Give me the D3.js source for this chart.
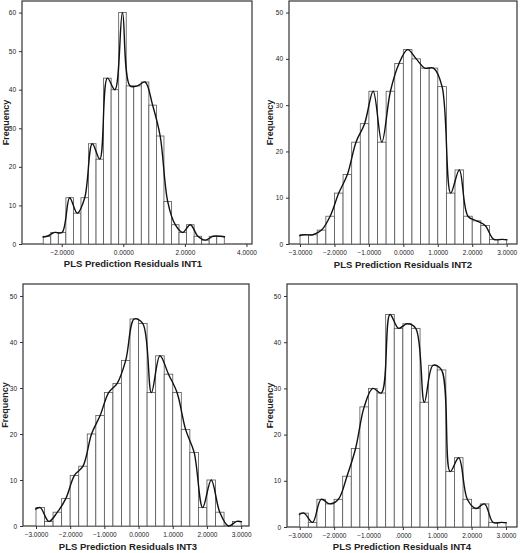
<!DOCTYPE html>
<html><head><meta charset="utf-8">
<script src="https://cdn.jsdelivr.net/npm/d3@7"></script>
<style>body{margin:0;background:#fff}svg{display:block}</style>
</head><body>
<svg id="c" width="520" height="553"></svg>
<script>
// bin counts, width 0.25
var int1Start = -2.6, int1Width = 0.245
var int1 = [2,3,3,12,8,12,26,22,43,40,60,41,41,42,36,28,11,5,3,5,2,1,2,2]
var int2 = [2,2,3,6,11,15,22,26,33,22,33,39,42,40,38,38,34,11,16,6,5,4,1,1]
var int3 = [4,1,3,6,11,13,20,24,29,31,36,45,44,29,37,33,29,21,16,4,10,3,0,1]
var int4 = [3,1,6,5,6,11,17,26,30,29,46,43,44,43,27,35,34,12,15,6,4,5,1,1]
var ticks1 = [-2, 0, 2, 4]
var ticks234 = [-3, -2, -1, 0, 1, 2, 3]

var panels = [
  {name: 'INT1', counts: int1, start: int1Start, w: int1Width, box: [22, 1, 252, 244], xd: [-3.29, 4.18], yMax: 63, yt: d3.range(0, 61, 10), xt: ticks1, lab: [5, 133, 264]},
  {name: 'INT2', counts: int2, start: -3, w: 0.25, box: [289, 1, 517, 244], xd: [-3.32, 3.3], yMax: 52.5, yt: d3.range(0, 51, 10), xt: ticks234, lab: [269, 403, 265]},
  {name: 'INT3', counts: int3, start: -3, w: 0.25, box: [23, 284, 249, 526], xd: [-3.38, 3.23], yMax: 52.6, yt: d3.range(0, 51, 10), xt: ticks234, lab: [4, 128, 547]},
  {name: 'INT4', counts: int4, start: -3, w: 0.25, box: [287, 284, 517, 527], xd: [-3.37, 3.32], yMax: 52.6, yt: d3.range(0, 51, 10), xt: ticks234, lab: [269, 402, 547]}
]

var svg = d3.select('#c')

panels.forEach(function (p) {
  var b = p.box
  var x = d3.scaleLinear().domain(p.xd).range([b[0], b[2]])
  var y = d3.scaleLinear().domain([0, p.yMax]).range([b[3], b[1]])
  var g = svg.append('g')

  g.append('rect').attr('x', b[0]).attr('y', b[1]).attr('width', b[2] - b[0]).attr('height', b[3] - b[1])
      .attr('fill', '#fff').attr('stroke', '#333').attr('stroke-width', 1.2)

  var bins = p.counts.map(function (c, i) { return {x0: p.start + i * p.w, c: c} })

  g.selectAll('rect.bar').data(bins.filter(function (d) { return d.c > 0 })).enter().append('rect')
      .attr('class', 'bar')
      .attr('x', function (d) { return x(d.x0) })
      .attr('y', function (d) { return y(d.c) })
      .attr('width', function (d) { return x(d.x0 + p.w) - x(d.x0) })
      .attr('height', function (d) { return y(0) - y(d.c) })
      .attr('fill', '#fff').attr('stroke', '#555').attr('stroke-width', 0.8)

  var pts = [[p.start - p.w * 0.1, bins[0].c * 0.9]].concat(bins.map(function (d) { return [d.x0 + p.w / 2, d.c] }))
  pts.push([p.start + p.counts.length * p.w + p.w * 0.1, p.counts[p.counts.length - 1] * 0.9])
  g.append('path').datum(pts)
      .attr('fill', 'none').attr('stroke', '#111').attr('stroke-width', 1.4)
      .attr('d', d3.line().x(function (d) { return x(d[0]) }).y(function (d) { return y(d[1]) }).curve(d3.curveCatmullRom.alpha(0.5)))

  var fmt = function (v) { return v === 0 && p.name === 'INT4' ? '.0000' : d3.format('.4f')(v).replace('-', '\u2212') }
  var ax = g.append('g').attr('transform', 'translate(0,' + b[3] + ')')
      .call(d3.axisBottom(x).tickValues(p.xt).tickSize(3).tickFormat(fmt))
  var ay = g.append('g').attr('transform', 'translate(' + b[0] + ',0)')
      .call(d3.axisLeft(y).tickValues(p.yt).tickSize(3).tickFormat(d3.format('d')))
  ;[ax, ay].forEach(function (a) {
    a.select('.domain').remove()
    a.selectAll('line').attr('stroke', '#333')
    a.selectAll('text').attr('font-family', 'Arial, Liberation Sans, sans-serif').attr('font-size', 6.5).attr('fill', '#222')
  })

  g.append('text').attr('transform', 'translate(' + (p.lab[0] + 4) + ',' + ((b[1] + b[3]) / 2) + ') rotate(-90)')
      .attr('text-anchor', 'middle').attr('font-family', 'Arial, Liberation Sans, sans-serif')
      .attr('font-weight', 'bold').attr('font-size', 9).attr('fill', '#222').text('Frequency')
  g.append('text').attr('x', p.lab[1]).attr('y', p.lab[2] + 3)
      .attr('text-anchor', 'middle').attr('font-family', 'Arial, Liberation Sans, sans-serif')
      .attr('font-weight', 'bold').attr('font-size', 9.5).attr('fill', '#222').text('PLS Prediction Residuals ' + p.name)
})
</script>
</body></html>
